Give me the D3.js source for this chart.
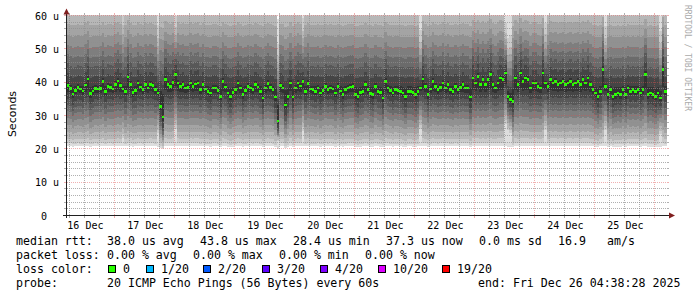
<!DOCTYPE html>
<html lang="en">
<head>
<meta charset="UTF-8">
<title>Smokeping - last 10 days</title>
<script src="https://d3js.org/d3.v7.min.js"></script>
<style>
    body { margin: 0; background: #fff; }
    svg text { font-family: "DejaVu Sans Mono", monospace; fill: #000; }
    .legend text { font-size: 11.6px; white-space: pre; }
</style>
</head>
<body>
<svg id="main" width="697" height="297"></svg>
<script>
    // hourly median rtt (us), 16 Dec 04:38 -> 26 Dec 04:38
    const median = [
        39.0, 38.2, 36.5, 37.6, 38.5, 38.0, 37.4, 39.2, 41.0, 36.6,
        37.4, 38.1, 38.0, 38.2, 40.2, 37.2, 38.8, 38.4, 38.0, 39.3,
        40.4, 39.0, 38.0, 37.3, 41.6, 39.4, 36.9, 37.5, 39.8, 38.6,
        37.8, 39.3, 38.3, 39.4, 39.0, 37.8, 36.8, 32.8, 29.6, 40.8,
        39.3, 38.8, 40.0, 42.3, 39.8, 38.8, 39.3, 38.3, 38.5, 39.8,
        38.8, 39.5, 39.8, 37.8, 39.3, 38.0, 37.3, 36.8, 38.3, 38.3,
        37.6, 35.8, 40.3, 38.6, 36.8, 35.8, 37.0, 37.8, 39.8, 38.3,
        36.3, 37.6, 38.8, 38.3, 37.8, 39.3, 38.6, 37.3, 35.3, 38.3,
        39.6, 38.5, 37.8, 35.6, 28.4, 39.0, 38.3, 33.2, 35.8, 39.8,
        35.6, 38.3, 39.8, 38.9, 40.3, 37.3, 39.6, 38.0, 37.8, 37.3,
        38.3, 36.8, 37.6, 38.8, 37.8, 38.3, 38.0, 36.8, 38.8, 37.4,
        36.3, 37.8, 38.3, 38.6, 38.8, 36.3, 35.8, 37.0, 37.3, 39.3,
        37.8, 36.6, 36.3, 38.8, 37.3, 37.0, 35.3, 40.3, 38.3, 37.6,
        36.8, 37.8, 37.5, 37.3, 36.8, 35.8, 37.3, 37.3, 37.0, 36.3,
        37.3, 38.3, 41.0, 38.8, 36.3, 38.0, 40.3, 38.8, 37.8, 38.5,
        39.8, 38.3, 39.3, 37.8, 37.3, 38.8, 37.8, 38.5, 39.3, 38.3,
        38.3, 35.6, 41.3, 39.8, 41.8, 39.3, 40.8, 39.3, 40.8, 42.3,
        39.3, 38.3, 39.8, 41.3, 40.8, 42.8, 35.8, 34.8, 34.3, 41.3,
        39.3, 42.8, 40.3, 41.3, 40.8, 38.3, 39.8, 39.8, 38.8, 38.3,
        42.8, 39.8, 38.8, 40.8, 39.8, 40.3, 39.3, 39.8, 40.3, 39.3,
        39.8, 40.3, 39.3, 39.8, 40.3, 39.3, 40.8, 39.8, 41.3, 39.3,
        37.8, 36.8, 35.8, 37.3, 43.8, 38.8, 36.3, 37.8, 35.8, 36.3,
        36.8, 36.3, 37.8, 36.3, 38.3, 37.3, 37.8, 37.3, 37.8, 36.8,
        37.8, 42.3, 36.3, 36.8, 36.3, 35.8, 36.8, 35.3, 43.8, 37.3
    ];
    // typical sorted 20 pings of one hour (us), read from the smoke shading
    const pingProfile = [20.8, 21.6, 23.0, 25.0, 27.0, 29.0, 31.0, 32.8, 34.8, 36.8,
                         39.0, 41.8, 44.8, 47.6, 50.6, 53.8, 57.2, 60.6, 66.0, 78.0];
    // how strongly each ping follows the median
    const pingPull = [0.1, 0.15, 0.25, 0.35, 0.5, 0.65, 0.8, 0.9, 1, 1,
                      1, 1, 0.9, 0.8, 0.65, 0.5, 0.4, 0.3, 0.2, 0.1];
    // hours with a tight spread (the light streaks)
    const calmCols = [22, 36, 43, 84, 94, 141, 175, 176, 177, 191, 215, 237];
    const calmSpread = [0.85, 0.7, 0.72, 0.62, 0.72, 0.62, 0.62, 0.58, 0.62, 0.68, 0.66, 0.66];

    const yTicks = [0, 10, 20, 30, 40, 50, 60];
    const yTickLabels = ['0', '10 u', '20 u', '30 u', '40 u', '50 u', '60 u'];
    const rttStats = ['38.0 us avg', '43.8 us max', '28.4 us min', '37.3 us now', '0.0 ms sd', '16.9', 'am/s'];
    const lossStats = ['0.00 % avg', '0.00 % max', '0.00 % min', '0.00 % now'];
    const lossLabels = ['0', '1/20', '2/20', '3/20', '4/20', '10/20', '19/20'];
    const lossColors = ['#26ff00', '#00b8ff', '#0059ff', '#5e00ff', '#7e00ff', '#dd00ff', '#ff0000'];
    const probeText = '20 ICMP Echo Pings (56 Bytes) every 60s';
    const endText = 'end: Fri Dec 26 04:38:28 2025';

    const svg = d3.select('#main');
    const end = new Date(Date.UTC(2025, 11, 26, 4, 38, 28));
    const start = new Date(+end - 10 * 864e5);
    const x = d3.scaleUtc().domain([start, end]).range([66.5, 666.5]);
    const y = d3.scaleLinear().domain([0, 60]).range([215.5, 15.5]);

    // per hour sorted pings
    let hours = median.map(function (m, i) {
        const dev = m - 38;
        const ci = calmCols.indexOf(i);
        const s = ci < 0 ? 1 : calmSpread[ci];
        const p = pingProfile.map(function (v, k) {
            const side = k < 10 ? -1 : 1;
            const pull = pingPull[k] * (Math.sign(dev) === side ? 1 : 0.3);
            const q = v + dev * pull;
            if (k === 0) return q;
            return m + (q - m) * (side > 0 ? s : 1 - (1 - s) * 0.7);
        });
        return {t: new Date(+start + i * 36e5), m: m, p: p};
    });
    hours.push(Object.assign({}, hours[hours.length - 1], {t: end}));

    svg.append('clipPath').attr('id', 'plot')
        .append('rect').attr('x', 67).attr('y', 15.5).attr('width', 600).attr('height', 200);

    // smoke: nested bands, outer light, inner dark
    let smoke = svg.append('g').attr('clip-path', 'url(#plot)');
    d3.range(10).forEach(function (b) {
        const c = Math.floor(190 / 10 * (9 - b)) + 50;
        const area = d3.area().curve(d3.curveStepAfter)
            .x(d => x(d.t))
            .y0(d => y(d.p[b]))
            .y1(d => y(d.p[19 - b]));
        smoke.append('path')
            .attr('d', area(hours))
            .attr('fill', d3.rgb(c, c, c))
            .attr('shape-rendering', 'crispEdges');
    });

    // median, coloured by loss (all 0)
    const medArea = d3.area().curve(d3.curveStepAfter)
        .x(d => x(d.t))
        .y0(d => y(d.m - 0.4))
        .y1(d => y(d.m + 0.4));
    smoke.append('path').attr('d', medArea(hours)).attr('fill', lossColors[0])
        .attr('shape-rendering', 'crispEdges');

    // grid on top, dotted 1:1
    const minorCol = 'rgba(143,143,143,0.7)', majorCol = 'rgba(222,79,79,0.45)';
    let grid = svg.append('g');
    d3.range(2, 61, 2).forEach(function (v) {
        const col = v % 10 === 0 ? majorCol : minorCol;
        const yy = Math.round(y(v) - 0.5) + 0.5;
        grid.append('line').attr('x1', 67).attr('x2', 667).attr('y1', yy).attr('y2', yy)
            .attr('stroke', col).attr('stroke-dasharray', '1,1');
        grid.append('line').attr('x1', 64).attr('x2', 67).attr('y1', yy).attr('y2', yy).attr('stroke', col);
        grid.append('line').attr('x1', 667).attr('x2', 669).attr('y1', yy).attr('y2', yy).attr('stroke', col);
    });
    d3.utcHour.every(6).range(start, end).forEach(function (t) {
        const col = t.getUTCHours() === 0 ? majorCol : minorCol;
        const xx = Math.floor(x(t)) + 0.5;
        grid.append('line').attr('x1', xx).attr('x2', xx).attr('y1', 16).attr('y2', 215)
            .attr('stroke', col).attr('stroke-dasharray', '1,1');
        grid.append('line').attr('x1', xx).attr('x2', xx).attr('y1', 216).attr('y2', 218).attr('stroke', col);
        grid.append('line').attr('x1', xx).attr('x2', xx).attr('y1', 13).attr('y2', 15).attr('stroke', col);
    });

    // axes with arrows
    grid.append('line').attr('x1', 63).attr('x2', 669).attr('y1', 215.5).attr('y2', 215.5).attr('stroke', '#202020');
    grid.append('line').attr('x1', 66.5).attr('x2', 66.5).attr('y1', 14).attr('y2', 218).attr('stroke', '#202020');
    svg.append('path').attr('d', 'M63.5,14.5L66.5,8.5L69.5,14.5Z').attr('fill', '#801f1f');
    svg.append('path').attr('d', 'M669,212.5L675,215.5L669,218.5Z').attr('fill', '#801f1f');

    // y labels
    let yAxis = svg.append('g').attr('transform', 'translate(59,0)')
        .call(d3.axisLeft(y).tickValues(yTicks).tickFormat((d, i) => yTickLabels[i]).tickSize(0).tickPadding(0));
    yAxis.select('.domain').remove();
    yAxis.attr('font-family', null).attr('font-size', null);
    yAxis.selectAll('text').style('font-size', '10px').attr('dy', '0.35em')
        .attr('x', d => d === 0 ? -12 : 0);

    // x labels at noon of each day
    const noons = d3.utcDay.range(d3.utcDay.floor(start), end)
        .map(d => d3.utcHour.offset(d, 12)).filter(d => d >= start && d < end);
    let xAxis = svg.append('g').attr('transform', 'translate(0,215.5)')
        .call(d3.axisBottom(x).tickValues(noons).tickFormat(d3.utcFormat('%d %b')).tickSize(0));
    xAxis.select('.domain').remove();
    xAxis.attr('font-family', null).attr('font-size', null);
    xAxis.selectAll('text').style('font-size', '10px').attr('y', 13).attr('dy', 0);

    svg.append('text').attr('transform', 'translate(15.5,114) rotate(-90)')
        .attr('text-anchor', 'middle')
        .style('font-family', '"DejaVu Sans", sans-serif').style('font-size', '11px')
        .text('Seconds');

    svg.append('text').attr('transform', 'translate(685,5) rotate(90)')
        .style('font-size', '8px').style('fill', '#aaa')
        .text('RRDTOOL / TOBI OETIKER');

    // legend
    let leg = svg.append('g').attr('class', 'legend');
    leg.append('text').attr('x', 16).attr('y', 245).text('median rtt:');
    [107, 200, 293, 386, 479, 558, 607].forEach(function (xx, i) {
        leg.append('text').attr('x', xx).attr('y', 245).text(rttStats[i]);
    });
    leg.append('text').attr('x', 16).attr('y', 259).text('packet loss:');
    [107, 193, 279, 365].forEach(function (xx, i) {
        leg.append('text').attr('x', xx).attr('y', 259).text(lossStats[i]);
    });
    leg.append('text').attr('x', 16).attr('y', 273).text('loss color:');
    const boxX = [108.5, 146, 203.5, 262, 320, 378, 442.5];
    const labX = [123, 161, 218, 277, 335, 393, 457];
    lossLabels.forEach(function (l, i) {
        leg.append('rect').attr('x', boxX[i]).attr('y', 265.5).attr('width', 7).attr('height', 7)
            .attr('fill', lossColors[i]).attr('stroke', '#000').attr('shape-rendering', 'crispEdges');
        leg.append('text').attr('x', labX[i]).attr('y', 273).text(l);
    });
    leg.append('text').attr('x', 16).attr('y', 287).text('probe:');
    leg.append('text').attr('x', 107).attr('y', 287).text(probeText);
    leg.append('text').attr('x', 478).attr('y', 287).text(endText);
</script>
</body>
</html>
